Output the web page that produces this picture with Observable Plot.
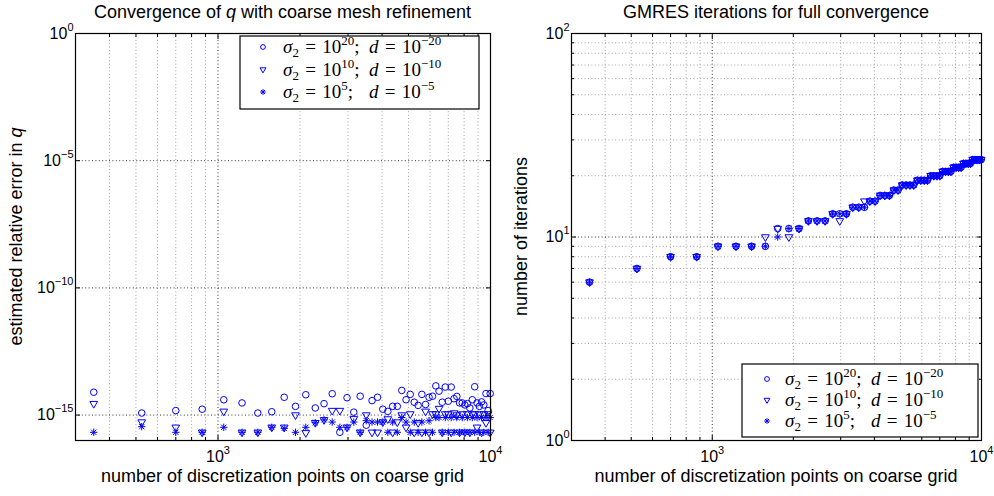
<!DOCTYPE html>
<html><head><meta charset="utf-8">
<script src="https://cdn.jsdelivr.net/npm/d3@7"></script>
<script src="https://cdn.jsdelivr.net/npm/@observablehq/plot@0.6"></script>
<style>
body{margin:0;background:#fff;}
#wrap{position:relative;width:994px;height:496px;overflow:hidden;background:#fff;}
#wrap > svg{position:absolute;top:0;overflow:visible;}
</style></head><body><div id="wrap"></div>
<script>
// ---------- data ----------
const N = [350, 525, 700, 875, 1050, 1225, 1400, 1575, 1750, 1925,
  2100, 2275, 2450, 2625, 2800, 2975, 3150, 3325, 3500, 3675,
  3850, 4025, 4200, 4375, 4550, 4725, 4900, 5075, 5250, 5425,
  5600, 5775, 5950, 6125, 6300, 6475, 6650, 6825, 7000, 7175,
  7350, 7525, 7700, 7875, 8050, 8225, 8400, 8575, 8750, 8925,
  9100, 9275, 9450, 9625, 9800, 9975];

// left panel: estimated relative error in q
const errSigma20 = [7.9e-15, 1.2e-15, 1.5e-15, 1.7e-15, 4.0e-15, 3.0e-15, 1.2e-15, 1.35e-15, 5.0e-15, 2.2e-15,
  6.3e-15, 1.9e-15, 2.8e-15, 6.9e-15, 2.1e-16, 4.8e-15, 1.3e-15, 5.5e-15, 4.0e-16, 3.7e-15,
  5.0e-15, 1.7e-15, 1.4e-15, 2.2e-15, 2.2e-15, 9.3e-15, 4.0e-15, 6.5e-15, 3.2e-15, 2.4e-15,
  6.5e-15, 2.6e-15, 5.0e-15, 5.5e-15, 1.4e-14, 8.7e-15, 3.2e-15, 1.26e-14, 3.5e-15, 1.26e-14,
  4.4e-15, 5.4e-15, 3.0e-15, 3.0e-15, 2.5e-15, 2.8e-15, 1.9e-15, 4.0e-15, 1.3e-14, 3.0e-15,
  2.2e-15, 3.3e-15, 2.5e-15, 7.0e-15, 1.5e-15, 7.0e-15];
const errSigma10 = [2.8e-15, 5.3e-16, 3.3e-16, 2.1e-16, 1.4e-15, 2.1e-16, 2.1e-16, 3.3e-16, 3.3e-16, 1.0e-15,
  2.0e-16, 5.0e-16, 6.5e-16, 1.5e-15, 1.5e-15, 3.3e-16, 7.1e-16, 2.1e-16, 1.0e-15, 2.1e-16,
  2.1e-16, 5.3e-16, 7.0e-16, 2.1e-16, 5.3e-16, 1.0e-15, 3.3e-16, 1.1e-15, 2.1e-16, 5.0e-16,
  2.1e-16, 1.4e-15, 2.1e-16, 1.1e-15, 1.1e-15, 1.8e-15, 2.1e-16, 1.1e-15, 1.1e-15, 2.1e-16,
  1.2e-15, 1.0e-15, 2.1e-16, 1.1e-15, 2.1e-16, 1.1e-15, 2.1e-16, 1.1e-15, 1.1e-15, 3.3e-16,
  1.1e-15, 2.1e-16, 1.1e-15, 5.0e-16, 1.1e-15, 2.1e-16];
const errSigma5 = [2.1e-16, 3.5e-16, 2.1e-16, 2.1e-16, 3.3e-16, 2.1e-16, 2.1e-16, 3.3e-16, 3.0e-16, 2.1e-16,
  3.3e-16, 5.0e-16, 6.5e-16, 5.3e-16, 3.3e-16, 3.3e-16, 5.3e-16, 2.1e-16, 6.0e-16, 5.3e-16,
  5.3e-16, 5.3e-16, 2.1e-16, 5.3e-16, 2.1e-16, 8.0e-16, 5.3e-16, 2.1e-16, 5.3e-16, 2.1e-16,
  5.3e-16, 2.1e-16, 6.0e-16, 2.1e-16, 8.0e-16, 8.0e-16, 2.1e-16, 8.0e-16, 2.1e-16, 8.0e-16,
  2.1e-16, 8.0e-16, 2.1e-16, 8.0e-16, 2.1e-16, 8.0e-16, 2.1e-16, 8.0e-16, 2.1e-16, 8.0e-16,
  2.1e-16, 8.0e-16, 2.1e-16, 8.0e-16, 2.1e-16, 8.0e-16];

// right panel: GMRES iterations
const itSigma20 = [6, 7, 8, 8, 9, 9, 9, 9, 11, 11,
  11, 12, 12, 12, 13, 13, 13, 14, 14, 14,
  15, 15, 16, 16, 16, 17, 17, 18, 18, 18,
  18, 19, 19, 19, 19, 20, 20, 20, 20, 21,
  21, 21, 21, 22, 22, 22, 22, 23, 23, 23,
  23, 24, 24, 24, 24, 24];
const itSigma10 = [6, 7, 8, 8, 9, 9, 9, 10, 11, 10,
  11, 12, 12, 12, 13, 12, 13, 14, 14, 15,
  15, 15, 16, 16, 16, 17, 17, 18, 18, 18,
  18, 19, 19, 19, 19, 20, 20, 20, 20, 21,
  21, 21, 21, 22, 22, 22, 22, 23, 23, 23,
  23, 24, 24, 24, 24, 24];
const itSigma5 = [6, 7, 8, 8, 9, 9, 9, 9, 10, 11,
  11, 12, 12, 12, 13, 13, 13, 14, 14, 14,
  15, 15, 16, 16, 16, 17, 17, 18, 18, 18,
  18, 19, 19, 19, 19, 20, 20, 20, 20, 21,
  21, 21, 21, 22, 22, 22, 22, 23, 23, 23,
  23, 24, 24, 24, 24, 24];

// ticks
const xDomain = [300, 10000];
const xMajorTicks = [1000, 10000];
const xMinorTicks = [400, 500, 600, 700, 800, 900, 2000, 3000, 4000, 5000, 6000, 7000, 8000, 9000];
const errDomain = [1e-16, 1];
const errMajorTicks = [1e-15, 1e-10, 1e-5, 1];
const itDomain = [1, 100];
const itMajorTicks = [1, 10, 100];
const itMinorTicks = [2, 3, 4, 5, 6, 7, 8, 9, 20, 30, 40, 50, 60, 70, 80, 90];

// text
const titles = ["Convergence of ", "q", " with coarse mesh refinement", "GMRES iterations for full convergence"];
const xLabel = "number of discretization points on coarse grid";
const yLabels = ["estimated relative error in ", "q", "number of iterations"];
const legendSigmaExp = ["20", "10", "5"];
const legendDExp = ["\u221220", "\u221210", "\u22125"];

// ---------- drawing ----------
const SANS = "'Liberation Sans', Arial, Helvetica, sans-serif";
const SERIF = "'Liberation Serif', 'Times New Roman', serif";
const BLUE = "#0000ff";
const fmtPow = d => "10^" + Math.round(Math.log10(d));
const blank = () => "";

function tickMarks(yMajor, yMinor) {
  const m = [
    Plot.axisX({ticks: xMajorTicks, anchor: "bottom", tickSize: -5, tickPadding: 15.5, tickFormat: fmtPow, fontSize: 16, label: null}),
    Plot.axisX({ticks: xMajorTicks, anchor: "top", tickSize: -5, tickFormat: blank, label: null}),
    Plot.axisX({ticks: xMinorTicks, anchor: "bottom", tickSize: -3, tickFormat: blank, label: null}),
    Plot.axisX({ticks: xMinorTicks, anchor: "top", tickSize: -3, tickFormat: blank, label: null}),
    Plot.axisY({ticks: yMajor, anchor: "left", tickSize: -5, tickPadding: 7, tickFormat: fmtPow, fontSize: 16, label: null}),
    Plot.axisY({ticks: yMajor, anchor: "right", tickSize: -5, tickFormat: blank, label: null})
  ];
  if (yMinor.length) {
    m.push(Plot.axisY({ticks: yMinor, anchor: "left", tickSize: -3, tickFormat: blank, label: null}));
    m.push(Plot.axisY({ticks: yMinor, anchor: "right", tickSize: -3, tickFormat: blank, label: null}));
  }
  return m;
}

function gridMarks(yGridMajor, yGridMinor) {
  return [
    Plot.ruleX(xMinorTicks, {stroke: "#a0a0a0", strokeDasharray: "1,2.4"}),
    Plot.ruleY(yGridMinor, {stroke: "#a0a0a0", strokeDasharray: "1,2.4"}),
    Plot.ruleX(xMajorTicks, {stroke: "#333", strokeDasharray: "1,2.4"}),
    Plot.ruleY(yGridMajor, {stroke: "#333", strokeDasharray: "1,2.4"})
  ];
}

function seriesMarks(rows) {
  return [
    Plot.dot(rows, {x: "n", y: "a", symbol: "circle", r: 3.3, stroke: BLUE, fill: "none", strokeWidth: 1}),
    Plot.dot(rows, {x: "n", y: "b", symbol: "triangle2", rotate: 180, r: 3.7, stroke: BLUE, fill: "none", strokeWidth: 1}),
    Plot.dot(rows, {x: "n", y: "c", symbol: "plus", r: 2.5, stroke: BLUE, strokeWidth: 1}),
    Plot.dot(rows, {x: "n", y: "c", symbol: "times", r: 2.5, stroke: BLUE, strokeWidth: 1})
  ];
}

function superscripts(svg) {
  d3.select(svg).selectAll('g[aria-label*="tick label"] text').each(function () {
    const m = this.textContent.match(/^(\d+)\^(-?\d+)$/);
    if (!m) return;
    const t = d3.select(this);
    t.text(m[1]);
    t.append("tspan").attr("dy", -8).attr("font-size", 11).text(m[2].replace("-", "\u2212"));
  });
}

const errRows = N.map((n, i) => ({n, a: errSigma20[i], b: errSigma10[i], c: errSigma5[i]}));
const itRows = N.map((n, i) => ({n, a: itSigma20[i], b: itSigma10[i], c: itSigma5[i]}));

const common = {
  width: 497, height: 496, marginTop: 33, marginBottom: 56,
  style: {fontFamily: SANS, fontSize: "16px", background: "transparent", color: "black", overflow: "visible"}
};

const left = Plot.plot({
  ...common, marginLeft: 75, marginRight: 7,
  x: {type: "log", domain: xDomain},
  y: {type: "log", domain: errDomain},
  marks: [
    ...gridMarks([1e-15, 1e-10, 1e-5], []),
    ...seriesMarks(errRows),
    ...tickMarks(errMajorTicks, []),
    Plot.frame({stroke: "black", strokeWidth: 1.2})
  ]
});
const right = Plot.plot({
  ...common, marginLeft: 74, marginRight: 13,
  x: {type: "log", domain: xDomain},
  y: {type: "log", domain: itDomain},
  marks: [
    ...gridMarks([10], itMinorTicks),
    ...seriesMarks(itRows),
    ...tickMarks(itMajorTicks, itMinorTicks),
    Plot.frame({stroke: "black", strokeWidth: 1.2})
  ]
});
superscripts(left); superscripts(right);
left.style.left = "0px"; right.style.left = "497px";
const wrap = document.getElementById("wrap");
wrap.appendChild(left); wrap.appendChild(right);

// ---------- overlay: titles, labels, legends ----------
const ov = d3.select(wrap).append("svg").attr("width", 994).attr("height", 496)
  .style("left", "0px").style("pointer-events", "none").attr("font-family", SANS);

let t = ov.append("text").attr("x", 282.5).attr("y", 18).attr("text-anchor", "middle").attr("font-size", 18);
t.append("tspan").text(titles[0]); t.append("tspan").attr("font-style", "italic").text(titles[1]); t.append("tspan").text(titles[2]);
ov.append("text").attr("x", 776).attr("y", 18).attr("text-anchor", "middle").attr("font-size", 18).text(titles[3]);

ov.append("text").attr("x", 282.5).attr("y", 482).attr("text-anchor", "middle").attr("font-size", 18).text(xLabel);
ov.append("text").attr("x", 776).attr("y", 482).attr("text-anchor", "middle").attr("font-size", 18).text(xLabel);

t = ov.append("text").attr("transform", "translate(22,236.5) rotate(-90)").attr("text-anchor", "middle").attr("font-size", 18);
t.append("tspan").text(yLabels[0]); t.append("tspan").attr("font-style", "italic").text(yLabels[1]);
ov.append("text").attr("transform", "translate(527,236.5) rotate(-90)").attr("text-anchor", "middle").attr("font-size", 18).text(yLabels[2]);

function legend(x0, y0, w, h, rowsY, markerX, textX) {
  const g = ov.append("g");
  g.append("rect").attr("x", x0).attr("y", y0).attr("width", w).attr("height", h)
    .attr("fill", "white").attr("stroke", "black").attr("stroke-width", 1.2);
  const sp = "\u2004";
  rowsY.forEach((ry, i) => {
    const mg = g.append("g").attr("transform", `translate(${markerX},${ry})`)
      .attr("fill", "none").attr("stroke", BLUE).attr("stroke-width", 1);
    if (i === 0) mg.append("path").attr("d", d3.symbol(d3.symbolCircle, Math.PI * 2.4 * 2.4)());
    if (i === 1) mg.append("path").attr("transform", "rotate(180)").attr("d", d3.symbol(d3.symbolTriangle2, Math.PI * 2.8 * 2.8)());
    if (i === 2) {
      mg.append("path").attr("d", d3.symbol(d3.symbolPlus, Math.PI * 2 * 2)());
      mg.append("path").attr("d", d3.symbol(d3.symbolTimes, Math.PI * 2 * 2)());
    }
    const tx = g.append("text").attr("x", textX).attr("y", ry + 6).attr("font-family", SERIF)
      .attr("font-size", 19).style("white-space", "pre");
    tx.append("tspan").attr("font-style", "italic").text("\u03c3");
    tx.append("tspan").attr("font-size", 13).attr("dy", 4).text("2");
    tx.append("tspan").attr("dy", -4).text(sp + "=" + sp + "10");
    tx.append("tspan").attr("font-size", 13).attr("dy", -8).text(legendSigmaExp[i]);
    tx.append("tspan").attr("dy", 8).text(i === 2 ? ";\u2002\u2004" : ";\u2002");
    tx.append("tspan").attr("font-style", "italic").text("d");
    tx.append("tspan").text(sp + "=" + sp + "10");
    tx.append("tspan").attr("font-size", 13).attr("dy", -8).text(legendDExp[i]);
  });
}
legend(240, 36, 239, 73, [47, 69.5, 92], 263, 283);
legend(742, 364, 236, 73, [379, 400, 421], 767, 785);
</script></body></html>
